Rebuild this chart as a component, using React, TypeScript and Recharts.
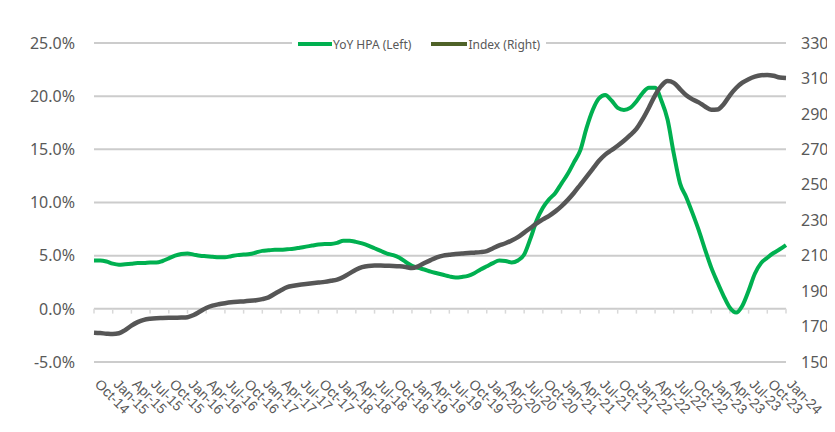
import React from 'react'
import { LineChart, Line, XAxis, YAxis, CartesianGrid, ReferenceLine } from 'recharts'

const MONTH_NAMES = ['Jan', 'Feb', 'Mar', 'Apr', 'May', 'Jun', 'Jul', 'Aug', 'Sep', 'Oct', 'Nov', 'Dec']

// monthly categories Oct-14 .. Jan-24
const months: string[] = []
for (let k = 0; k < 112; k++) {
  const m = (9 + k) % 12
  const yr = 14 + Math.floor((9 + k) / 12)
  months.push(`${MONTH_NAMES[m]}-${yr}`)
}

// YoY HPA, % (left axis)
const yoyHpa = [
  4.55, 4.55, 4.45, 4.25, 4.15, 4.2, 4.25, 4.3, 4.3, 4.35, 4.35, 4.5,
  4.75, 5.0, 5.15, 5.2, 5.1, 5.0, 4.95, 4.9, 4.85, 4.85, 4.95, 5.05,
  5.1, 5.15, 5.3, 5.45, 5.5, 5.55, 5.55, 5.6, 5.65, 5.75, 5.85, 5.95,
  6.05, 6.1, 6.1, 6.2, 6.4, 6.4, 6.3, 6.15, 5.95, 5.7, 5.45, 5.2,
  5.05, 4.8, 4.4, 4.05, 3.85, 3.7, 3.5, 3.35, 3.2, 3.05, 2.95, 3.0,
  3.1, 3.35, 3.7, 4.0, 4.3, 4.55, 4.5, 4.35, 4.55, 5.1, 6.6, 8.3,
  9.5, 10.3, 10.9, 11.8, 12.7, 13.8, 14.9, 17.0, 18.7, 19.8, 20.1, 19.6,
  18.9, 18.7, 18.9, 19.5, 20.3, 20.8, 20.8, 19.6, 17.8, 14.6, 11.8, 10.5,
  9.0, 7.4, 5.6, 3.9, 2.5, 1.2, 0.1, -0.35, 0.3, 1.7, 3.3, 4.3,
  4.8, 5.25, 5.6, 6.0,
]

// house price index (right axis)
const hpIndex = [
  166.5, 166.3, 166.0, 165.8, 166.2, 168.0, 170.5, 172.5, 173.8, 174.4, 174.7, 174.8,
  174.9, 175.0, 175.1, 175.3, 176.5, 178.5, 180.5, 181.8, 182.6, 183.2, 183.7, 184.0,
  184.2, 184.5, 184.9, 185.5, 186.5, 188.5, 190.5, 192.2, 193.0, 193.6, 194.0, 194.4,
  194.8, 195.2, 195.8, 196.5, 198.0, 200.0, 202.0, 203.5, 204.2, 204.4, 204.4, 204.3,
  204.2, 204.0, 203.6, 203.0, 204.0, 205.8, 207.5, 209.0, 210.0, 210.5, 211.0, 211.2,
  211.5, 211.7, 212.0, 212.6, 214.2, 215.8, 217.0, 218.6, 220.5, 223.0, 225.6, 228.2,
  230.5, 232.5, 235.0, 238.0, 241.5, 245.5, 250.0, 254.5, 259.0, 263.5, 267.0, 269.5,
  272.0, 274.8, 278.0, 281.5, 287.0, 293.5, 300.5, 305.8, 308.5, 307.5, 304.0, 300.5,
  298.2, 296.5, 294.2, 292.4, 292.5, 295.5, 300.5, 304.6, 307.6, 309.6, 311.0, 311.8,
  312.0, 311.5, 310.5, 310.2,
]

const leftTicks = [-5, 0, 5, 10, 15, 20, 25]
const rightTicks = [150, 170, 190, 210, 230, 250, 270, 290, 310, 330]

const data = months.map((m, i) => ({ month: m, yoy: yoyHpa[i], index: hpIndex[i] }))
const quarterMonths = months.filter((_, i) => i % 3 === 0)

const GREEN = '#00B050'
const GREY = '#565656'
const TEXT = '#595959'

const XTick = (props: any) => {
  const { x, y, payload } = props
  return (
    <text
      transform={`translate(${x},${y + 15}) rotate(45)`}
      fontSize={14}
      fill={TEXT}
      fontFamily="'Liberation Sans', Arial, sans-serif"
      textAnchor="start"
    >
      {payload.value}
    </text>
  )
}

export default function App() {
  return (
    <div style={{ position: 'relative', width: 827, height: 424, borderLeft: '2px solid #d9d9d9', marginLeft: -2 }}>
      <LineChart width={827} height={424} data={data} margin={{ top: 35, right: 4, bottom: 10, left: 0 }}>
        <CartesianGrid yAxisId="left" vertical={false} stroke="#cccccc" strokeWidth={2} />
        <XAxis
          dataKey="month"
          interval={2}
          tickLine={false}
          axisLine={false}
          height={60}
          tick={<XTick />}
        />
        <YAxis
          yAxisId="left"
          domain={[-5, 25]}
          ticks={leftTicks}
          width={86}
          tickSize={0}
          tickMargin={19}
          axisLine={false}
          tickLine={false}
          tickFormatter={(v: number) => `${v.toFixed(1)}%`}
          tick={{ fill: TEXT, fontSize: 16, fontFamily: "'Noto Sans', sans-serif" }}
        />
        <YAxis
          yAxisId="right"
          orientation="right"
          domain={[150, 330]}
          ticks={rightTicks}
          width={45}
          tickSize={0}
          tickMargin={15}
          axisLine={false}
          tickLine={false}
          tick={{ fill: TEXT, fontSize: 16, fontFamily: "'Noto Sans', sans-serif", textAnchor: 'start' }}
        />
        {quarterMonths.map((m) => (
          <ReferenceLine
            key={m}
            yAxisId="left"
            segment={[{ x: m, y: 0 }, { x: m, y: -0.45 }]}
            stroke="#d9d9d9"
            strokeWidth={1.5}
          />
        ))}
        <Line
          yAxisId="left"
          type="monotone"
          dataKey="yoy"
          stroke={GREEN}
          strokeWidth={4}
          dot={false}
          isAnimationActive={false}
        />
        <Line
          yAxisId="right"
          type="monotone"
          dataKey="index"
          stroke={GREY}
          strokeWidth={4.5}
          dot={false}
          isAnimationActive={false}
        />
      </LineChart>
      <div
        style={{
          position: 'absolute',
          top: 27,
          left: 284,
          height: 18,
          display: 'flex',
          alignItems: 'center',
          background: '#fff',
          padding: '0 6px',
          fontFamily: "'Noto Sans', sans-serif",
          fontSize: 12,
          color: TEXT,
          whiteSpace: 'nowrap',
        }}
      >
        <span style={{ display: 'inline-block', width: 34, height: 3.5, background: GREEN, marginRight: 1 }} />
        <span>YoY HPA (Left)</span>
        <span style={{ display: 'inline-block', width: 36, height: 3.5, background: '#4F6228', marginLeft: 20, marginRight: 1 }} />
        <span>Index (Right)</span>
      </div>
    </div>
  )
}
